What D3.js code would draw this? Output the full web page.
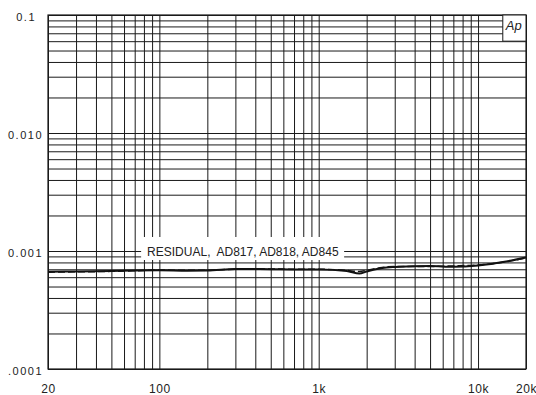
<!DOCTYPE html>
<html>
<head>
<meta charset="utf-8">
<script src="https://cdn.jsdelivr.net/npm/d3@7"></script>
<style>
  html, body { margin: 0; padding: 0; background: #fff; }
  svg { display: block; }
  text { font-family: "Liberation Sans", Arial, sans-serif; fill: #222; }
</style>
</head>
<body>
<svg id="chart" width="536" height="395"></svg>
<script>
// ---- data ----
const freqs = [20, 30, 50, 70, 100, 150, 200, 300, 500, 700, 1000, 1500, 1800, 2000, 2500, 3000, 5000, 7000, 10000, 15000, 20000];
const residualSolid = [0.000668, 0.000670, 0.000677, 0.000683, 0.000686, 0.000681, 0.000683, 0.000704, 0.000701, 0.000697, 0.000697, 0.000677, 0.000645, 0.000670, 0.000718, 0.000732, 0.000746, 0.000735, 0.000754, 0.000815, 0.000881];
const residualDashed = [0.000662, 0.000666, 0.000672, 0.000680, 0.000690, 0.000686, 0.000688, 0.000700, 0.000705, 0.000700, 0.000700, 0.000685, 0.000670, 0.000685, 0.000725, 0.000740, 0.000740, 0.000748, 0.000762, 0.000810, 0.000875];
const xTickValues = [20, 100, 1000, 10000, 20000];
const xTickLabels = ["20", "100", "1k", "10k", "20k"];
const yTickValues = [0.1, 0.01, 0.001, 0.0001];
const yTickLabels = ["0.1", "0.010", "0.001", ".0001"];
const annotation = "RESIDUAL,  AD817, AD818, AD845";
const badge = "Ap";

// ---- layout ----
const L = 48, R = 526, T = 15, B = 369;
const svg = d3.select("#chart");
const x = d3.scaleLog().domain([20, 20000]).range([L, R]);
const y = d3.scaleLog().domain([0.0001, 0.1]).range([B, T]);

// grid values
const xGrid = [];
[10, 100, 1000, 10000].forEach(d => { for (let m = 1; m <= 9; m++) { const v = m * d; if (v >= 20 && v <= 20000) xGrid.push(v); } });
const yGrid = [];
[0.0001, 0.001, 0.01].forEach(d => { for (let m = 1; m <= 9; m++) yGrid.push(+(m * d).toPrecision(3)); });
yGrid.push(0.1);

// vertical grid
svg.append("g")
  .attr("transform", `translate(0,${B})`)
  .call(d3.axisBottom(x).tickValues(xGrid).tickSize(-(B - T)).tickFormat(""))
  .call(g => g.select(".domain").remove())
  .call(g => g.selectAll("line").attr("stroke", "#1a1a1a").attr("stroke-width", 1));

// horizontal grid
svg.append("g")
  .attr("transform", `translate(${L},0)`)
  .call(d3.axisLeft(y).tickValues(yGrid).tickSize(-(R - L)).tickFormat(""))
  .call(g => g.select(".domain").remove())
  .call(g => g.selectAll("line").attr("stroke", "#1a1a1a").attr("stroke-width", 1));

// frame
svg.append("rect").attr("x", L).attr("y", T).attr("width", R - L).attr("height", B - T)
  .attr("fill", "none").attr("stroke", "#1a1a1a").attr("stroke-width", 1.2);

// x labels
svg.append("g")
  .attr("transform", `translate(0,${B})`)
  .call(d3.axisBottom(x).tickValues(xTickValues).tickSize(0).tickPadding(15)
        .tickFormat((d, i) => xTickLabels[i]))
  .call(g => g.select(".domain").remove())
  .call(g => g.selectAll("text").attr("font-size", 12).attr("font-family", "Liberation Sans, Arial, sans-serif")
        .attr("fill", "#222").attr("letter-spacing", "0.5px"));

// y labels
svg.append("g")
  .attr("transform", `translate(${L},0)`)
  .call(d3.axisLeft(y).tickValues(yTickValues).tickSize(0).tickPadding(5)
        .tickFormat((d, i) => yTickLabels[i]))
  .call(g => g.select(".domain").remove())
  .call(g => g.selectAll("text").attr("font-size", 11).attr("font-family", "Liberation Sans, Arial, sans-serif")
        .attr("fill", "#222").attr("letter-spacing", "1.5px").attr("dy", "0.5em")
        .attr("dx", (d, i) => i === 0 ? -7 : 0));

// annotation box
const annX = x(85), annY = y(0.001);
svg.append("rect").attr("x", annX - 7).attr("y", annY - 14).attr("width", 203).attr("height", 23).attr("fill", "#fff");
svg.append("text").attr("x", annX - 1).attr("y", annY + 4.5).attr("font-size", 12)
  .style("white-space", "pre").attr("xml:space", "preserve").text(annotation);

// Ap badge
const bx0 = x(14300), by1 = y(0.06);
svg.append("rect").attr("x", bx0).attr("y", T).attr("width", R - bx0).attr("height", by1 - T)
  .attr("fill", "#fff").attr("stroke", "#1a1a1a").attr("stroke-width", 1);
svg.append("text").attr("x", bx0 + 3).attr("y", T + 15).attr("font-size", 13).attr("font-style", "italic").text(badge);

// curves
const line = d3.line().x((d, i) => x(freqs[i])).y(d => y(d)).curve(d3.curveMonotoneX);
svg.append("path").datum(residualSolid).attr("d", line)
  .attr("fill", "none").attr("stroke", "#111").attr("stroke-width", 2);
svg.append("path").datum(residualDashed).attr("d", line)
  .attr("fill", "none").attr("stroke", "#111").attr("stroke-width", 1.5).attr("stroke-dasharray", "7,3");
</script>
</body>
</html>
